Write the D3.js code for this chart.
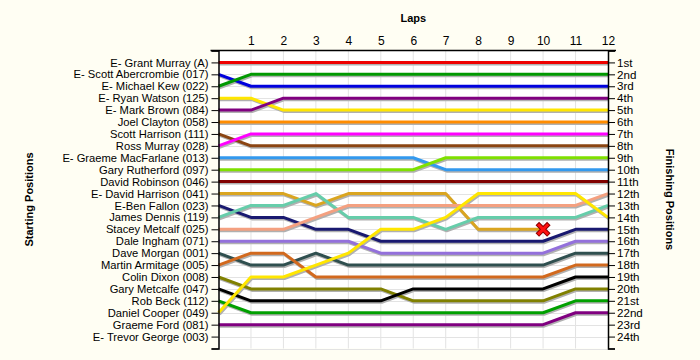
<!DOCTYPE html>
<html><head><meta charset="utf-8">
<script src="https://cdn.jsdelivr.net/npm/d3@7"></script>
<style>
html,body{margin:0;padding:0;background:#FFFEF3;}
svg{display:block;}
text{font-family:"Liberation Sans",Arial,sans-serif;}
</style></head>
<body>
<svg id="chart" width="700" height="360"></svg>
<script>
const laps = [0,1,2,3,4,5,6,7,8,9,10,11,12];
const lapTickLabels = ["1","2","3","4","5","6","7","8","9","10","11","12"];
const drivers = ["E- Grant Murray (A)","E- Scott Abercrombie (017)","E- Michael Kew (022)","E- Ryan Watson (125)","E- Mark Brown (084)","Joel Clayton (058)","Scott Harrison (111)","Ross Murray (028)","E- Graeme MacFarlane (013)","Gary Rutherford (097)","David Robinson (046)","E- David Harrison (041)","E-Ben Fallon (023)","James Dennis (119)","Stacey Metcalf (025)","Dale Ingham (071)","Dave Morgan (001)","Martin Armitage (005)","Colin Dixon (008)","Gary Metcalfe (047)","Rob Beck (112)","Daniel Cooper (049)","Graeme Ford (081)","E- Trevor George (003)"];
const finishLabels = ["1st","2nd","3rd","4th","5th","6th","7th","8th","9th","10th","11th","12th","13th","14th","15th","16th","17th","18th","19th","20th","21st","22nd","23rd","24th"];
const colors = ["#EE0000","#0000DD","#009900","#FFE600","#800080","#FF8C00","#8B4513","#FF00FF","#3399EE","#7FE000","#800000","#DAA520","#191970","#66CDAA","#F4A080","#9370DB","#2F4F4F","#D2691E","#808000","#000000","#00A000","#FFE600","#800080",null];
// positions per lap (lap 0..12) for each driver, in starting order
const positions = [
 [1,1,1,1,1,1,1,1,1,1,1,1,1],
 [2,3,3,3,3,3,3,3,3,3,3,3,3],
 [3,2,2,2,2,2,2,2,2,2,2,2,2],
 [4,4,5,5,5,5,5,5,5,5,5,5,5],
 [5,5,4,4,4,4,4,4,4,4,4,4,4],
 [6,6,6,6,6,6,6,6,6,6,6,6,6],
 [7,8,8,8,8,8,8,8,8,8,8,8,8],
 [8,7,7,7,7,7,7,7,7,7,7,7,7],
 [9,9,9,9,9,9,9,10,10,10,10,10,10],
 [10,10,10,10,10,10,10,9,9,9,9,9,9],
 [11,11,11,11,11,11,11,11,11,11,11,11,11],
 [12,12,12,13,12,12,12,12,15,15,15],
 [13,14,14,15,15,16,16,16,16,16,16,15,15],
 [14,13,13,12,14,14,14,15,14,14,14,14,13],
 [15,15,15,14,13,13,13,13,13,13,13,13,12],
 [16,16,16,16,16,17,17,17,17,17,17,16,16],
 [17,18,18,17,18,18,18,18,18,18,18,17,17],
 [18,17,17,19,19,19,19,19,19,19,19,18,18],
 [19,20,20,20,20,20,21,21,21,21,21,20,20],
 [20,21,21,21,21,21,20,20,20,20,20,19,19],
 [21,22,22,22,22,22,22,22,22,22,22,21,21],
 [22,19,19,18,17,15,15,14,12,12,12,12,14],
 [23,23,23,23,23,23,23,23,23,23,23,22,22],
 []
];
const retired = [11];

const svg = d3.select("#chart");
const x0 = 218.5, x1 = 608, y0 = 50.5, y1 = 348.5;
const x = d3.scaleLinear().domain([0,12]).range([x0,x1]);
const y = d3.scaleLinear().domain([0,25]).range([y0,y1]);

svg.append("rect").attr("x",x0).attr("y",y0).attr("width",x1-x0).attr("height",y1-y0).attr("fill","#fff");

// grid
const g = svg.append("g");
g.selectAll("line.v").data(d3.range(1,12)).join("line")
 .attr("x1",d=>x(d)).attr("x2",d=>x(d)).attr("y1",y0).attr("y2",y1)
 .attr("stroke","#e3e3e3").attr("stroke-width",1);
g.selectAll("line.h").data(d3.range(1,26)).join("line")
 .attr("x1",x0).attr("x2",x1).attr("y1",d=>Math.round(y(d))+0.5).attr("y2",d=>Math.round(y(d))+0.5)
 .attr("stroke","#e3e3e3").attr("stroke-width",1);

const line = d3.line().x((d,i)=>x(laps[i])).y(d=>y(d));
// shadows
svg.append("g").selectAll("path").data(positions.filter(p=>p.length)).join("path")
 .attr("d",line).attr("fill","none").attr("stroke","#b0b0b0").attr("stroke-width",3)
 .attr("transform","translate(1,1.5)").attr("stroke-linejoin","round");
svg.append("g").selectAll("path").data(positions.map((p,i)=>({p,c:colors[i]})).filter(d=>d.p.length)).join("path")
 .attr("d",d=>line(d.p)).attr("fill","none").attr("stroke",d=>d.c).attr("stroke-width",3).attr("stroke-linejoin","round");

// retired marker
retired.forEach(i=>{
  const p = positions[i]; const L = p.length-1;
  const cx = x(laps[L]), cy = y(p[L]);
  const s = 4;
  const mk = svg.append("g").attr("transform",`translate(${cx},${cy})`);
  mk.append("path").attr("d",`M${-s},${-s}L${s},${s}M${-s},${s}L${s},${-s}`).attr("stroke","#8b0000").attr("stroke-width",5).attr("stroke-linecap","square");
  mk.append("path").attr("d",`M${-s},${-s}L${s},${s}M${-s},${s}L${s},${-s}`).attr("stroke","#ff1010").attr("stroke-width",3).attr("stroke-linecap","square");
});

// axes
const leftAxis = d3.axisLeft(y).tickValues(d3.range(0,26)).tickSize(7).tickPadding(3)
  .tickFormat(d=> (d>=1&&d<=24)? drivers[d-1] : "");
const la = svg.append("g").attr("transform",`translate(${x0},0)`).call(leftAxis);
const rightAxis = d3.axisRight(y).tickValues(d3.range(0,26)).tickSize(7).tickPadding(2)
  .tickFormat(d=> (d>=1&&d<=24)? finishLabels[d-1] : "");
const ra = svg.append("g").attr("transform",`translate(${x1},0)`).call(rightAxis);
const topAxis = d3.axisTop(x).tickValues(d3.range(1,13)).tickSize(0).tickPadding(6)
  .tickFormat(d=>lapTickLabels[d-1]);
const ta = svg.append("g").attr("transform",`translate(0,${y0})`).call(topAxis);
[la,ra,ta].forEach(a=>{
  a.selectAll("text").attr("font-size",11.2).attr("fill","#000").style("font-family","'Liberation Sans',Arial,sans-serif");
  a.selectAll("line").attr("stroke","#000");
  a.select(".domain").attr("stroke","#000").attr("stroke-width",1.5);
});
ta.selectAll("text").attr("font-size",12);
ra.selectAll("text").attr("font-size",11.6);
ta.select(".domain").attr("d",`M${x0-8},0H${x1+8}`);

svg.append("text").attr("x",(x0+x1)/2).attr("y",22).attr("text-anchor","middle")
 .attr("font-size",11).attr("font-weight","bold").text("Laps");
svg.append("text").attr("transform",`translate(33,${(y0+y1)/2}) rotate(-90)`).attr("text-anchor","middle")
 .attr("font-size",11).attr("font-weight","bold").text("Starting Positions");
svg.append("text").attr("transform",`translate(666,${(y0+y1)/2}) rotate(90)`).attr("text-anchor","middle")
 .attr("font-size",11).attr("font-weight","bold").text("Finishing Positions");
</script>
</body></html>
